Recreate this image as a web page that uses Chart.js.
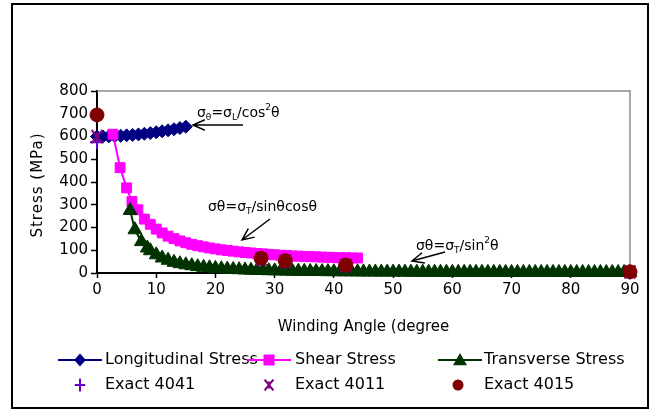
<!DOCTYPE html>
<html>
<head>
<meta charset="utf-8">
<script src="https://cdn.jsdelivr.net/npm/chart.js@4.4.0/dist/chart.umd.min.js"></script>
<style>
  html, body { margin: 0; padding: 0; background: #fff; }
  #wrap { width: 657px; height: 412px; position: relative; }
</style>
</head>
<body>
<div id="wrap"><canvas id="c" width="657" height="412"></canvas></div>
<script>
// ---- data (winding angle in degrees, stress in MPa) ----
const longAngle  = [0, 1, 2, 3, 4, 5, 6, 7, 8, 9, 10, 11, 12, 13, 14, 15];
const longStress = [600, 600, 601, 602, 603, 605, 607, 609, 612, 615, 619, 623, 627, 632, 637, 643];

const shearAngle  = [2.7, 3.9, 5, 5.9, 6.9, 8, 9, 10, 11, 12, 13, 14, 15, 16, 17, 18, 19, 20, 21, 22, 23, 24,
                     25, 26, 27, 28, 29, 30, 31, 32, 33, 34, 35, 36, 37, 38, 39, 40, 41, 42, 43, 44];
const shearStress = [610, 463, 374, 314, 278, 237, 214, 193, 176, 162, 151, 141, 133, 126, 120, 115, 110, 106, 102, 99, 96, 93,
                     90, 88, 86, 84, 82, 80, 78, 77, 75, 74, 73, 72, 71, 70, 69, 68, 67, 67, 66, 66];

const transAngle  = [5.6, 6.4, 7.5, 8.5, 9, 10, 11, 12, 13, 14, 15, 16, 17, 18, 19, 20, 21, 22, 23, 24, 25, 26, 27, 28, 29, 30,
                     31, 32, 33, 34, 35, 36, 37, 38, 39, 40, 41, 42, 43, 44, 45, 46, 47, 48, 49, 50, 51, 52, 53, 54, 55,
                     56, 57, 58, 59, 60, 61, 62, 63, 64, 65, 66, 67, 68, 69, 70, 71, 72, 73, 74, 75, 76, 77, 78, 79, 80,
                     81, 82, 83, 84, 85, 86, 87, 88, 89, 90];
const transStress = [275, 190, 138, 110, 98, 80, 66, 56, 47, 41, 36, 32, 28, 25, 23, 20.5, 18.7, 17.1, 15.7, 14.5, 13.4, 12.5, 11.6, 10.9, 10.2, 9.6,
                     9.0, 8.5, 8.1, 7.7, 7.3, 6.9, 6.6, 6.3, 6.1, 5.8, 5.6, 5.4, 5.2, 5.0, 4.8, 4.6, 4.5, 4.3, 4.2, 4.1, 4.0, 3.9, 3.8, 3.7, 3.6,
                     3.5, 3.4, 3.3, 3.3, 3.2, 3.1, 3.1, 3.0, 3.0, 2.9, 2.9, 2.8, 2.8, 2.8, 2.7, 2.7, 2.7, 2.6, 2.6, 2.6, 2.6, 2.5, 2.5, 2.5, 2.5,
                     2.5, 2.4, 2.4, 2.4, 2.4, 2.4, 2.4, 2.4, 2.4, 2.4];

const exactAngle = [0, 27.7, 31.8, 42, 90];
const exact4041  = [575, 58, 48, 31, 3];
const exact4011  = [600, 62, 52, 34, 5];
const exact4015  = [695, 65, 54, 35, 5];

const xTickValues = [0, 10, 20, 30, 40, 50, 60, 70, 80, 90];
const yTickValues = [0, 100, 200, 300, 400, 500, 600, 700, 800];

const xTitle = 'Winding Angle (degree';
const yTitle = 'Stress (MPa)';

// ---- styling ----
const FONT = 'DejaVu Sans';
const C_LONG = '#000080', C_SHEAR = '#FF00FF', C_TRANS = '#003300';
const C_4041 = '#6600CC', C_4011 = '#800080', C_4015 = '#800000';

function pairs(xs, ys) { return xs.map((x, i) => ({ x: x, y: ys[i] })); }

// asterisk-like marker: an X with a vertical stroke through it
function makeStar(color, w, h, lw) {
  const cv = document.createElement('canvas');
  cv.width = w; cv.height = h;
  const g = cv.getContext('2d');
  g.strokeStyle = color; g.lineWidth = lw; g.lineCap = 'butt';
  const m = lw / 2 + 0.5;
  g.beginPath();
  g.moveTo(m, m); g.lineTo(w - m, h - m);
  g.moveTo(w - m, m); g.lineTo(m, h - m);
  g.moveTo(w / 2, h * 0.25); g.lineTo(w / 2, h * 0.75);
  g.stroke();
  return cv;
}
const starPlot = makeStar(C_4011, 14, 16, 2);
const starLegend = makeStar(C_4011, 12, 14, 2.2);

function marker(ctx, style, color, x, y, r) {
  ctx.save();
  ctx.fillStyle = color; ctx.strokeStyle = color; ctx.lineWidth = 1;
  ctx.beginPath();
  if (style === 'rectRot') {
    ctx.moveTo(x - r * 0.9, y); ctx.lineTo(x, y - r); ctx.lineTo(x + r * 0.9, y); ctx.lineTo(x, y + r);
    ctx.closePath(); ctx.fill();
  } else if (style === 'rect') {
    ctx.rect(x - r, y - r, 2 * r, 2 * r); ctx.fill();
  } else if (style === 'triangle') {
    ctx.moveTo(x, y - r); ctx.lineTo(x + r * 1.0, y + r * 0.75); ctx.lineTo(x - r * 1.0, y + r * 0.75);
    ctx.closePath(); ctx.fill();
  } else if (style === 'circle') {
    ctx.arc(x, y, r, 0, Math.PI * 2); ctx.fill();
  } else if (style === 'cross') {
    ctx.lineWidth = 2;
    ctx.moveTo(x - r * 0.8, y); ctx.lineTo(x + r * 0.8, y);
    ctx.moveTo(x, y - r); ctx.lineTo(x, y + r); ctx.stroke();
  } else if (style === 'star') {
    ctx.drawImage(starLegend, x - starLegend.width / 2, y - starLegend.height / 2);
  }
  ctx.restore();
}

// text with sub/superscript runs
function richText(ctx, x, y, segs) {
  ctx.save();
  ctx.fillStyle = '#000';
  ctx.textBaseline = 'alphabetic';
  ctx.textAlign = 'left';
  let cx = x;
  segs.forEach(s => {
    let dy = 0;
    if (s.k === 'sub') { ctx.font = '9px ' + FONT; dy = 3; }
    else if (s.k === 'sup') { ctx.font = '9px ' + FONT; dy = -7; }
    else { ctx.font = '14px ' + FONT; }
    ctx.fillText(s.t, cx, y + dy);
    cx += ctx.measureText(s.t).width;
  });
  ctx.restore();
}

function arrow(ctx, x1, y1, x2, y2) {
  const ang = Math.atan2(y2 - y1, x2 - x1);
  const L = 13, a = 0.42;
  ctx.save();
  ctx.strokeStyle = '#000'; ctx.lineWidth = 1.5;
  ctx.beginPath();
  ctx.moveTo(x1, y1); ctx.lineTo(x2, y2);
  ctx.moveTo(x2 - L * Math.cos(ang - a), y2 - L * Math.sin(ang - a));
  ctx.lineTo(x2, y2);
  ctx.lineTo(x2 - L * Math.cos(ang + a), y2 - L * Math.sin(ang + a));
  ctx.stroke();
  ctx.restore();
}

const decorations = {
  id: 'decorations',
  beforeDraw(chart) {
    const ctx = chart.ctx;
    ctx.save();
    ctx.fillStyle = '#fff';
    ctx.fillRect(0, 0, chart.width, chart.height);
    ctx.restore();
  },
  beforeDatasetsDraw(chart) {
    const ctx = chart.ctx, a = chart.chartArea;
    // grey frame on the top and right of the plot area
    ctx.save();
    ctx.strokeStyle = '#8c8c8c'; ctx.lineWidth = 1.5;
    ctx.beginPath();
    ctx.moveTo(a.left, a.top); ctx.lineTo(a.right, a.top); ctx.lineTo(a.right, a.bottom);
    ctx.stroke();
    ctx.restore();
  },
  afterDraw(chart) {
    const ctx = chart.ctx, a = chart.chartArea;
    ctx.save();
    // outer frame
    ctx.strokeStyle = '#000'; ctx.lineWidth = 2;
    ctx.strokeRect(12, 4, 636, 404);

    // axis titles
    ctx.fillStyle = '#000';
    ctx.font = '15px ' + FONT;
    ctx.textAlign = 'center'; ctx.textBaseline = 'middle';
    ctx.fillText(xTitle, (a.left + a.right) / 2, 327);
    ctx.save();
    ctx.translate(38, 185);
    ctx.rotate(-Math.PI / 2);
    ctx.letterSpacing = '1px';
    ctx.fillText(yTitle, 0, 0);
    ctx.restore();

    // formula labels with arrows
    richText(ctx, 197, 117, [{t:'σ'},{t:'θ',k:'sub'},{t:'=σ'},{t:'L',k:'sub'},{t:'/cos'},{t:'2',k:'sup'},{t:'θ'}]);
    arrow(ctx, 243, 125, 193, 125);
    richText(ctx, 208, 211, [{t:'σθ=σ'},{t:'T',k:'sub'},{t:'/sinθcosθ'}]);
    arrow(ctx, 270, 219, 242, 240);
    richText(ctx, 416, 250, [{t:'σθ=σ'},{t:'T',k:'sub'},{t:'/sin'},{t:'2',k:'sup'},{t:'θ'}]);
    arrow(ctx, 445, 252, 412, 261);

    // legend
    const items = [
      { cx: 80,  y: 360, line: C_LONG,  style: 'rectRot',  color: C_LONG,  r: 6.5, tx: 105, text: 'Longitudinal Stress' },
      { cx: 269, y: 360, line: C_SHEAR, style: 'rect',     color: C_SHEAR, r: 5.5, tx: 295, text: 'Shear Stress' },
      { cx: 460, y: 360, line: C_TRANS, style: 'triangle', color: C_TRANS, r: 7,   tx: 484, text: 'Transverse Stress' },
      { cx: 80,  y: 385, line: null,    style: 'cross',    color: C_4041,  r: 6.5, tx: 105, text: 'Exact 4041' },
      { cx: 269, y: 385, line: null,    style: 'star',     color: C_4011,  r: 6,   tx: 295, text: 'Exact 4011' },
      { cx: 458, y: 385, line: null,    style: 'circle',   color: C_4015,  r: 5.5, tx: 484, text: 'Exact 4015' }
    ];
    items.forEach(it => {
      if (it.line) {
        ctx.save();
        ctx.strokeStyle = it.line; ctx.lineWidth = 2;
        ctx.beginPath(); ctx.moveTo(it.cx - 22, it.y); ctx.lineTo(it.cx + 22, it.y); ctx.stroke();
        ctx.restore();
      }
      marker(ctx, it.style, it.color, it.cx, it.y, it.r);
      ctx.fillStyle = '#000';
      ctx.font = '16px ' + FONT;
      ctx.textAlign = 'left'; ctx.textBaseline = 'middle';
      ctx.fillText(it.text, it.tx, it.y);
    });
    ctx.restore();
  }
};

const lineSet = (label, data, color, style, r, order) => ({
  label, data, order, clip: false,
  borderColor: color, backgroundColor: color, borderWidth: 2,
  pointStyle: style, pointRadius: r, pointHoverRadius: r,
  pointBackgroundColor: color, pointBorderColor: color, pointBorderWidth: 1,
  showLine: true, tension: 0
});

const chart = new Chart(document.getElementById('c'), {
  type: 'scatter',
  data: {
    datasets: [
      lineSet('Longitudinal Stress', pairs(longAngle, longStress), C_LONG, 'rectRot', 6.5, 6),
      lineSet('Shear Stress', pairs(shearAngle, shearStress), C_SHEAR, 'rect', 7, 5),
      lineSet('Transverse Stress', pairs(transAngle, transStress), C_TRANS, 'triangle', 8, 4),
      { label: 'Exact 4041', data: pairs(exactAngle, exact4041), order: 3, clip: false, showLine: false,
        pointStyle: 'cross', pointRadius: 7, pointBorderColor: C_4041, pointBackgroundColor: C_4041, pointBorderWidth: 2 },
      { label: 'Exact 4011', data: pairs(exactAngle, exact4011), order: 2, clip: false, showLine: false,
        pointStyle: starPlot, pointRadius: 7, pointBorderColor: C_4011, pointBackgroundColor: C_4011 },
      { label: 'Exact 4015', data: pairs(exactAngle, exact4015), order: 1, clip: false, showLine: false,
        pointStyle: 'circle', pointRadius: 7, pointBorderColor: C_4015, pointBackgroundColor: C_4015, pointBorderWidth: 1 }
    ]
  },
  options: {
    responsive: false,
    animation: false,
    devicePixelRatio: 1,
    layout: { autoPadding: false, padding: { left: 0, right: 27, top: 91, bottom: 109 } },
    plugins: { legend: { display: false }, tooltip: { enabled: false } },
    scales: {
      x: {
        type: 'linear', min: 0, max: 90,
        afterFit(s) { s.height = 30; },
        afterBuildTicks(s) { s.ticks = xTickValues.map(v => ({ value: v })); },
        ticks: { color: '#000', font: { family: FONT, size: 15 }, padding: 3, maxRotation: 0 },
        grid: { drawOnChartArea: false, drawTicks: true, tickLength: 5, tickColor: '#000', tickWidth: 1.5 },
        border: { color: '#000', width: 2 }
      },
      y: {
        type: 'linear', min: 0, max: 800,
        afterFit(s) { s.width = 97; },
        afterBuildTicks(s) { s.ticks = yTickValues.map(v => ({ value: v })); },
        ticks: { color: '#000', font: { family: FONT, size: 15 }, padding: 3 },
        grid: { drawOnChartArea: false, drawTicks: true, tickLength: 6, tickColor: '#000', tickWidth: 1.5 },
        border: { color: '#000', width: 2 }
      }
    }
  },
  plugins: [decorations]
});
</script>
</body>
</html>
